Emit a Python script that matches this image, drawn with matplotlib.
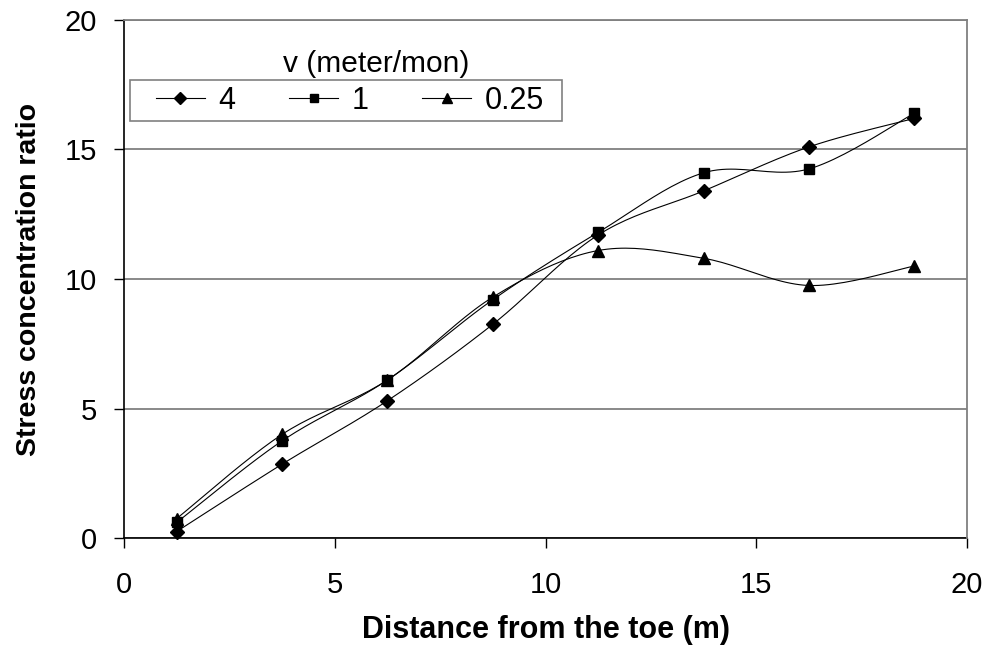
import numpy as np
import matplotlib
matplotlib.use("Agg")
import matplotlib.pyplot as plt
from matplotlib.lines import Line2D
from matplotlib.patches import Rectangle

plt.rcParams['font.family'] = ['Liberation Sans', 'DejaVu Sans']

# Distance from the toe (m)
distance = [1.25, 3.75, 6.25, 8.75, 11.25, 13.75, 16.25, 18.75]
# Stress concentration ratio for each velocity (meter/mon)
ratio_v4 = [0.25, 2.85, 5.3, 8.25, 11.7, 13.4, 15.1, 16.2]
ratio_v1 = [0.6, 3.75, 6.1, 9.2, 11.8, 14.1, 14.25, 16.4]
ratio_v025 = [0.75, 4.0, 6.1, 9.3, 11.1, 10.8, 9.75, 10.5]
series_labels = ['4', '1', '0.25']
series_markers = ['D', 's', '^']
legend_title = 'v (meter/mon)'
x_ticks = [0, 5, 10, 15, 20]
y_ticks = [0, 5, 10, 15, 20]

W, H = 994, 647


def smooth_curve(xs, ys, n=24):
    """Cubic Bezier smoothing through every point (Catmull-Rom style)."""
    pts = np.column_stack([xs, ys]).astype(float)
    out = []
    t = np.linspace(0, 1, n)[:, None]
    for i in range(len(pts) - 1):
        p0 = pts[i - 1] if i > 0 else pts[i]
        p1 = pts[i]
        p2 = pts[i + 1]
        p3 = pts[i + 2] if i + 2 < len(pts) else pts[i + 1]
        c1 = p1 + (p2 - p0) / 6.0
        c2 = p2 - (p3 - p1) / 6.0
        seg = ((1 - t) ** 3) * p1 + 3 * ((1 - t) ** 2) * t * c1 \
            + 3 * (1 - t) * t ** 2 * c2 + t ** 3 * p2
        out.append(seg if i == 0 else seg[1:])
    arr = np.vstack(out)
    return arr[:, 0], arr[:, 1]


fig = plt.figure(figsize=(W / 100, H / 100), dpi=100)
ax = fig.add_axes([124 / W, 1 - 538 / H, 843 / W, 518 / H])

marker_sizes = {'D': 7.5, 's': 7.5, '^': 9}
handles = []
for ys, lab, mk in zip([ratio_v4, ratio_v1, ratio_v025], series_labels, series_markers):
    sx, sy = smooth_curve(distance, ys)
    ax.plot(sx, sy, color='black', lw=0.8, zorder=3)
    ax.plot(distance, ys, linestyle='none', marker=mk, ms=marker_sizes[mk],
            color='black', zorder=4, clip_on=False)
    handles.append(Line2D([], [], color='black', lw=0.8, marker=mk,
                          ms=marker_sizes[mk] * 0.85, label=lab))

ax.set_xlim(0, 20)
ax.set_ylim(0, 20)
ax.set_xticks(x_ticks)
ax.set_yticks(y_ticks)
ax.set_xticklabels([str(v) for v in x_ticks])
ax.set_yticklabels([str(v) for v in y_ticks])
ax.tick_params(axis='both', direction='out', length=7.5, width=1, color='black',
               labelsize=21)
ax.tick_params(axis='x', pad=16)
ax.tick_params(axis='y', pad=12)

ax.grid(axis='y', color='#808080', lw=1.3, zorder=1)
for side in ['top', 'right']:
    ax.spines[side].set_color('#808080')
    ax.spines[side].set_linewidth(1.3)
for side in ['left', 'bottom']:
    ax.spines[side].set_color('black')
    ax.spines[side].set_linewidth(1.2)
ax.spines['bottom'].set_zorder(2)

ax.set_xlabel('Distance from the toe (m)', fontsize=22, fontweight='bold', labelpad=12)
ax.set_ylabel('Stress concentration ratio', fontsize=20.5, fontweight='bold', labelpad=16)

# Legend: entries in one row inside a plain grey box, title above the box
fig.add_artist(Rectangle((130 / W, 1 - 121 / H), 432 / W, 41 / H,
                         transform=fig.transFigure, facecolor='white',
                         edgecolor='#808080', lw=1.2, zorder=5))
leg = fig.legend(handles=handles, loc='center left',
                 bbox_to_anchor=(156 / W, 1 - 101 / H),
                 bbox_transform=fig.transFigure,
                 ncol=3, fontsize=22, frameon=False, handlelength=1.6,
                 handletextpad=0.45, columnspacing=1.75, borderpad=0,
                 borderaxespad=0)
leg.set_zorder(6)
fig.text(376 / W, 1 - 64 / H, legend_title, ha='center', va='center', fontsize=21.5)

fig.savefig('out.png', dpi=100)
